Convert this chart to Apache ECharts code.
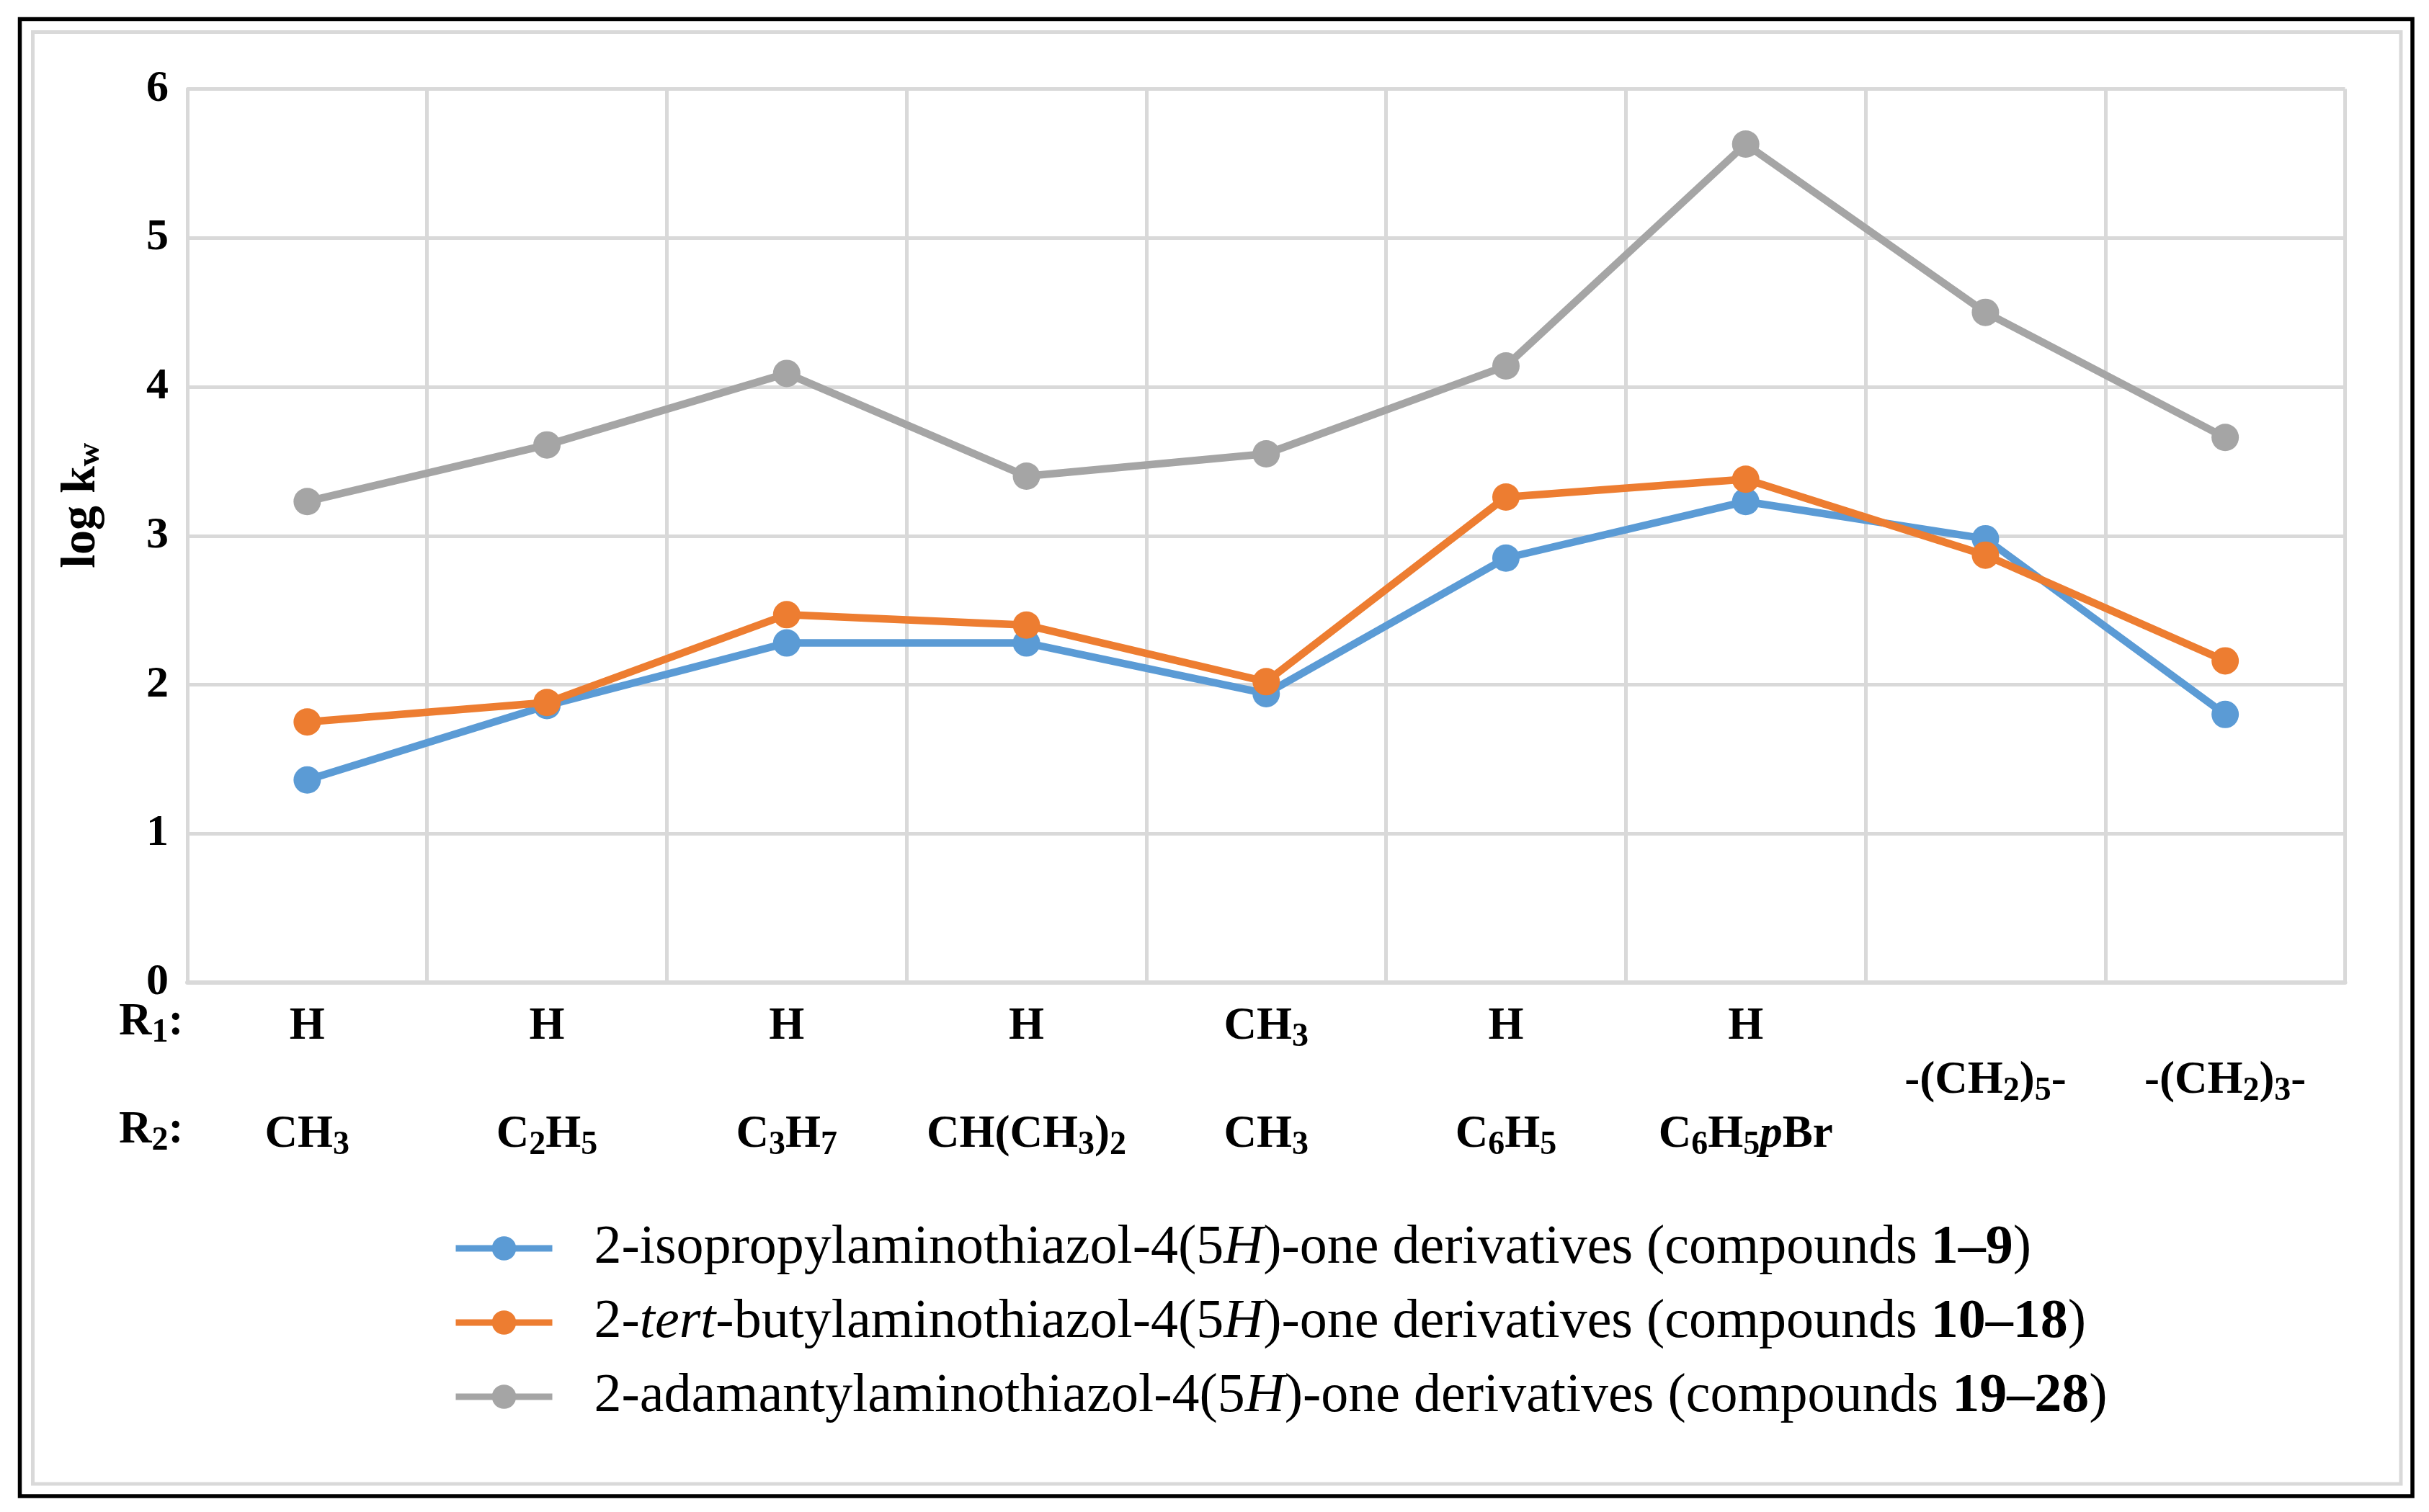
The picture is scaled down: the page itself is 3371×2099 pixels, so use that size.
<!DOCTYPE html>
<html><head><meta charset="utf-8">
<script src="https://cdn.jsdelivr.net/npm/echarts@6/dist/echarts.min.js"></script>
<style>html,body{margin:0;padding:0;background:#fff}#c{width:3371px;height:2099px}</style>
</head><body><div id="c"></div>
<script>
// ---- data ----
const categories = ['c1','c2','c3','c4','c5','c6','c7','c8','c9'];
const r1Labels = ['H','H','H','H','CH3','H','H','',''];
const r2Labels = ['CH3','C2H5','C3H7','CH(CH3)2','CH3','C6H5','C6H5pBr','',''];
const ringLabels = ['','','','','','','','-(CH2)5-','-(CH2)3-'];
const isopropyl = [1.36, 1.86, 2.28, 2.28, 1.94, 2.85, 3.23, 2.98, 1.80];
const tertButyl = [1.75, 1.88, 2.47, 2.40, 2.02, 3.26, 3.38, 2.87, 2.16];
const adamantyl = [3.23, 3.61, 4.09, 3.40, 3.55, 4.14, 5.63, 4.50, 3.66];
const seriesNames = ['isopropyl', 'tertButyl', 'adamantyl'];
const legendParts = {
  isopropyl: [['n','2-isopropylaminothiazol-4(5'],['i','H'],['n',')-one derivatives (compounds '],['b','1–9'],['n',')']],
  tertButyl: [['n','2-'],['i','tert'],['n','-butylaminothiazol-4(5'],['i','H'],['n',')-one derivatives (compounds '],['b','10–18'],['n',')']],
  adamantyl: [['n','2-adamantylaminothiazol-4(5'],['i','H'],['n',')-one derivatives (compounds '],['b','19–28'],['n',')']]
};
const yTicks = {min: 0, max: 6, interval: 1};

// ---- render ----
const FONT = '"Liberation Serif","Times New Roman",serif';
function formula(s) {
  let out = '', i = 0;
  while (i < s.length) {
    const ch = s[i];
    if (/[0-9]/.test(ch)) { out += '{s|' + ch + '}'; i++; }
    else if (ch === 'p') { out += '{i|p}'; i++; }
    else { let j = i; while (j < s.length && !/[0-9p]/.test(s[j])) j++; out += '{b|' + s.slice(i, j) + '}'; i = j; }
  }
  return out;
}
const LH = 75;
const labelRich = {
  b: {fontFamily: FONT, fontWeight: 'bold', fontSize: 63, lineHeight: LH, color: '#000'},
  i: {fontFamily: FONT, fontWeight: 'bold', fontStyle: 'italic', fontSize: 63, lineHeight: LH, color: '#000'},
  s: {fontFamily: FONT, fontWeight: 'bold', fontSize: 46, lineHeight: 44, verticalAlign: 'bottom', color: '#000'}
};
const colors = ['#5b9bd5', '#ed7d31', '#a5a5a5'];
const dataMap = {isopropyl, tertButyl, adamantyl};
const LEG = 76;

const chart = echarts.init(document.getElementById('c'), null, {renderer: 'canvas'});
chart.setOption({
  backgroundColor: '#fff',
  animation: false,
  color: colors,
  grid: {left: 260, right: 116.5, top: 123.5, bottom: 735, containLabel: false},
  xAxis: {
    type: 'category',
    data: categories,
    boundaryGap: true,
    axisLine: {show: true, lineStyle: {color: '#d9d9d9', width: 6}},
    axisTick: {show: false},
    splitLine: {show: true, lineStyle: {color: '#d9d9d9', width: 5}},
    axisLabel: {
      margin: 24,
      interval: 0,
      formatter: function (v, idx) {
        const l1 = r1Labels[idx] ? formula(r1Labels[idx]) : '{b| }';
        const l2 = ringLabels[idx] ? formula(ringLabels[idx]) : '{b| }';
        const l3 = r2Labels[idx] ? formula(r2Labels[idx]) : '{b| }';
        return l1 + '\n' + l2 + '\n' + l3;
      },
      rich: labelRich
    }
  },
  yAxis: {
    type: 'value',
    min: yTicks.min, max: yTicks.max, interval: yTicks.interval,
    name: '{b|log k}{s|w}',
    nameLocation: 'middle',
    nameRotate: 90,
    nameGap: 112,
    nameTextStyle: {
      padding: [0, 0, 0, 84],
      rich: {
        b: {fontFamily: FONT, fontWeight: 'bold', fontSize: 68, lineHeight: 70, color: '#000'},
        s: {fontFamily: FONT, fontWeight: 'bold', fontSize: 45, lineHeight: 44, verticalAlign: 'bottom', color: '#000'}
      }
    },
    axisLine: {show: true, lineStyle: {color: '#d9d9d9', width: 5}},
    axisTick: {show: false},
    splitLine: {show: true, lineStyle: {color: '#d9d9d9', width: 5}},
    axisLabel: {margin: 26, fontFamily: FONT, fontWeight: 'bold', fontSize: 62, color: '#000'}
  },
  legend: {
    orient: 'vertical',
    left: 623,
    top: 1690,
    itemWidth: 134,
    itemHeight: 42,
    itemGap: 27,
    data: seriesNames,
    lineStyle: {width: 9},
    formatter: function (name) {
      return legendParts[name].map(p => '{' + p[0] + '|' + p[1] + '}').join('');
    },
    textStyle: {
      padding: [0, 0, 0, 53],
      rich: {
        n: {fontFamily: FONT, fontSize: LEG, lineHeight: 80, color: '#000'},
        i: {fontFamily: FONT, fontStyle: 'italic', fontSize: LEG, lineHeight: 80, color: '#000'},
        b: {fontFamily: FONT, fontWeight: 'bold', fontSize: LEG, lineHeight: 80, color: '#000'}
      }
    }
  },
  graphic: [
    {type: 'rect', shape: {x: 27.5, y: 26.5, width: 3320.5, height: 2050.5}, style: {fill: 'none', stroke: '#000', lineWidth: 5.5}, silent: true},
    {type: 'rect', shape: {x: 45.5, y: 44.5, width: 3286.5, height: 2015.5}, style: {fill: 'none', stroke: '#d9d9d9', lineWidth: 5}, silent: true},
    {type: 'text', left: 165, top: 1388, style: {text: '{b|R}{s|1}{b|:}', rich: labelRich}},
    {type: 'text', left: 165, top: 1538, style: {text: '{b|R}{s|2}{b|:}', rich: labelRich}}
  ],
  series: seriesNames.map((n, k) => ({
    name: n,
    type: 'line',
    data: dataMap[n],
    symbol: 'circle',
    symbolSize: 38,
    lineStyle: {width: 10.5, color: colors[k]},
    itemStyle: {color: colors[k]},
    z: 2 + k
  }))
});
</script>
</body></html>
